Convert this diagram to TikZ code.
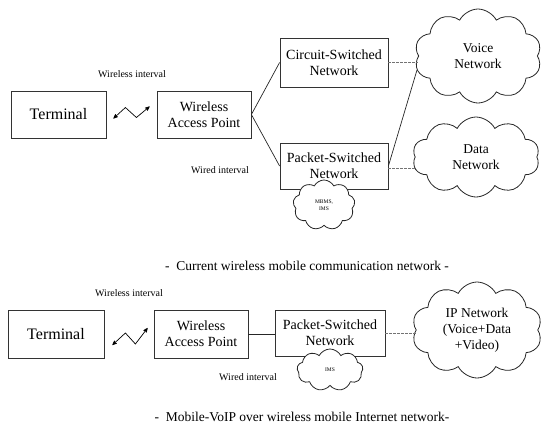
\documentclass[tikz,border=0pt]{standalone}
\usepackage{fontspec}
\setmainfont{Liberation Serif}
\usetikzlibrary{
  arrows,
  shapes.symbols,
  calc
}

\begin{document}
\begin{tikzpicture}[
      x=1pt,y=-1pt,
      block/.style={
         rectangle,
         draw=black!80,
         line width=0.8pt,
         align=center,
         inner sep=1pt,
         font=\fontsize{14}{16}\selectfont
      },
      netcloud/.style={
         cloud,
         cloud puffs=10,
         cloud puff arc=125,
         cloud ignores aspect,
         draw=black!85,
         fill=white,
         line width=0.8pt,
         inner sep=1pt,
         align=center,
         font=\fontsize{13.5}{16}\selectfont
      },
      smallcloud/.style={
         netcloud,
         cloud puffs=9,
         font=\fontsize{5.5}{6.5}\selectfont
      },
      interval/.style={font=\fontsize{10}{12}\selectfont},
      caption/.style={font=\fontsize{13.5}{15}\selectfont},
      link/.style={line width=0.7pt,draw=black!85},
      wired/.style={line width=0.7pt,draw=black!55,dash pattern=on 3pt off 1pt},
      radio/.style={<->,>=stealth',line width=0.7pt}
    ]
    \useasboundingbox (0,0) rectangle (543,434);

    % current network
    \node (term1) [block, minimum width=95, minimum height=47,
                   font=\fontsize{16}{18}\selectfont] at (58.5,114.5) {Terminal};
    \node (wap1) [block, minimum width=94, minimum height=47] at (204,114.5)
          {Wireless\\Access Point};
    \node (csn1) [block, minimum width=108, minimum height=49] at (334,62.5)
          {Circuit-Switched\\Network};
    \node (psn1) [block, minimum width=108, minimum height=46] at (334,166)
          {Packet-Switched\\Network};
    \node (mbms) [smallcloud, minimum width=62, minimum height=50] at (324,205)
          {MBMS,\\IMS};
    \node (voice1) [netcloud, minimum width=127, minimum height=94] at (478,56)
          {Voice\\Network};
    \node (data1) [netcloud, minimum width=127, minimum height=80] at (476,157)
          {Data\\Network};
    \node (wless1) [interval] at (132,74) {Wireless interval};
    \node (wired1) [interval] at (220,170) {Wired interval};
    \node (cap1) [caption] at (307,266)
          {-\ \ Current wireless mobile communication network -};

    \draw [radio] ($(term1.east)+(7,4)$) -- ++(12,-11) -- ++(11,10)
          -- ($(wap1.west)+(-7,-8)$);
    \draw [link] (wap1.east) -- (csn1.west);
    \draw [link] (wap1.east) -- (psn1.west);
    \draw [wired] (csn1.east) -- (csn1.east -| voice1.west);
    \draw [link] (psn1.east) -- (voice1.193);
    \draw [wired] ($(psn1.east)+(0,2)$) -- ($(psn1.east -| data1.west)+(0,2)$);

    % mobile voip
    \node (term2) [block, minimum width=96, minimum height=48,
                   font=\fontsize{16}{18}\selectfont] at (56,334) {Terminal};
    \node (wap2) [block, minimum width=94, minimum height=48] at (201,334)
          {Wireless\\Access Point};
    \node (psn2) [block, minimum width=110, minimum height=46] at (330,333)
          {Packet-Switched\\Network};
    \node (ims2) [smallcloud, minimum width=66, minimum height=42] at (330,370)
          {IMS};
    \node (ip2) [netcloud, minimum width=130, minimum height=96] at (477,330)
          {IP Network\\(Voice+Data\\+Video)};
    \node (wless2) [interval] at (129,293) {Wireless interval};
    \node (wired2) [interval] at (248,377) {Wired interval};
    \node (cap2) [caption] at (302,417)
          {-\ \ Mobile-VoIP over wireless mobile Internet network-};

    \draw [radio] ($(term2.east)+(8,11)$) -- ++(13,-12) -- ++(10,11)
          -- ($(wap2.west)+(-6,-6)$);
    \draw [link] (wap2.east) -- (wap2.east -| psn2.west);
    \draw [wired] (psn2.east) -- (psn2.east -| ip2.west);
\end{tikzpicture}
\end{document}
